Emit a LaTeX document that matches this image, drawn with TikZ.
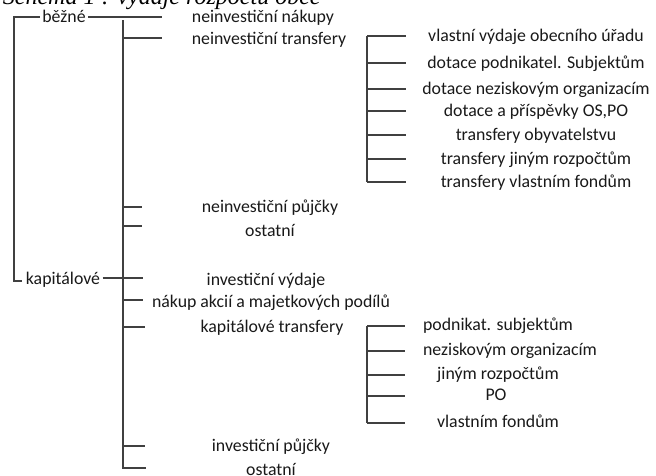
\documentclass[tikz,border=0pt]{standalone}
\usepackage{fontspec}
\setmainfont{Carlito}
\newfontfamily\captionfont{Liberation Serif}
\usetikzlibrary{positioning}

\begin{document}
\begin{tikzpicture}[x=1pt, y=-1pt, line width=1.1pt, draw=black!75]
      \tikzstyle{word} = [font=\fontsize{17.8}{20}\selectfont, color=black!90,
        inner sep=0pt, text height=8.5pt, text depth=0pt]
      \useasboundingbox (0,0) rectangle (656,475);
      \clip (0,0) rectangle (656,475);
      \node (caption) [anchor=base west, font=\captionfont\itshape\fontsize{24}{28}\selectfont]
        at (-1,4) {Schéma 1 : výdaje rozpočtu obce};
      % first level
      \node (bezne) [word] at (64,18) {běžné};
      \node (kap) [word] at (63,280) {kapitálové};
      \coordinate (left) at (14,17);
      \draw (bezne.west |- left) ++(-2,0) -- (left) -- (14,281) -- (22,281);
      % second level
      \coordinate (spine top) at (123,20);
      \coordinate (spine bot) at (123,468);
      \node (nakupy) [word] at (263,18) {neinvestiční nákupy};
      \coordinate (nakupy-b) at (162,17);
      \draw (bezne.east |- left) ++(2,0) -- (nakupy-b);
      \draw (kap.east |- 0,278) ++(2,0) -- (143,278);
      \draw (spine top) -- (spine bot) -- ++(23,0);
      \node (kostatni) [word] at (271,471) {ostatní};
      \foreach \y/\xe/\tx/\ty/\name/\txt in {
          38/162/269/40/ntransfery/{neinvestiční transfery},
          207/142/270/208/npujcky/{neinvestiční půjčky},
          226/142/270/232/nostatni/{ostatní},
          278/143/266/281/ivydaje/{investiční výdaje},
          300/143/271/303/akcie/{nákup akcií a majetkových podílů},
          327/145/272/328/ktransfery/{kapitálové transfery},
          446/145/271/447/ipujcky/{investiční půjčky}}
      {
        \node (\name) [word] at (\tx,\ty) {\txt};
        \coordinate (\name-a) at (123,\y);
        \coordinate (\name-b) at (\xe,\y);
        \draw (\name-a) -- (\name-b);
      }
      % third level, current transfers
      \foreach \y/\name/\txt in {
          36/vlastni/{vlastní výdaje obecního úřadu},
          63/podnikatel/{dotace podnikatel. Subjektům},
          89/neziskove/{dotace neziskovým organizacím},
          111/os/{dotace a příspěvky OS,PO},
          135/obyvatelstvo/{transfery obyvatelstvu},
          159/rozpocty/{transfery jiným rozpočtům},
          182/fondy/{transfery vlastním fondům}}
      {
        \node (\name) [word] at (536,\y+1) {\txt};
        \coordinate (\name-a) at (367,\y);
        \draw (\name-a) -- ++(39,0);
      }
      \draw (vlastni-a) -- (fondy-a);
      % third level, capital transfers
      \foreach \y/\tx/\name/\txt in {
          326/498/ksubjekty/{podnikat. subjektům},
          351/510/korganizace/{neziskovým organizacím},
          375/498/krozpocty/{jiným rozpočtům},
          396/496/kpo/{PO},
          423/498/kfondy/{vlastním fondům}}
      {
        \node (\name) [word] at (\tx,\y) {\txt};
        \coordinate (\name-a) at (367,\y);
        \draw (\name-a) -- ++(38,0);
      }
      \draw (ksubjekty-a) -- (kfondy-a);
\end{tikzpicture}
\end{document}
